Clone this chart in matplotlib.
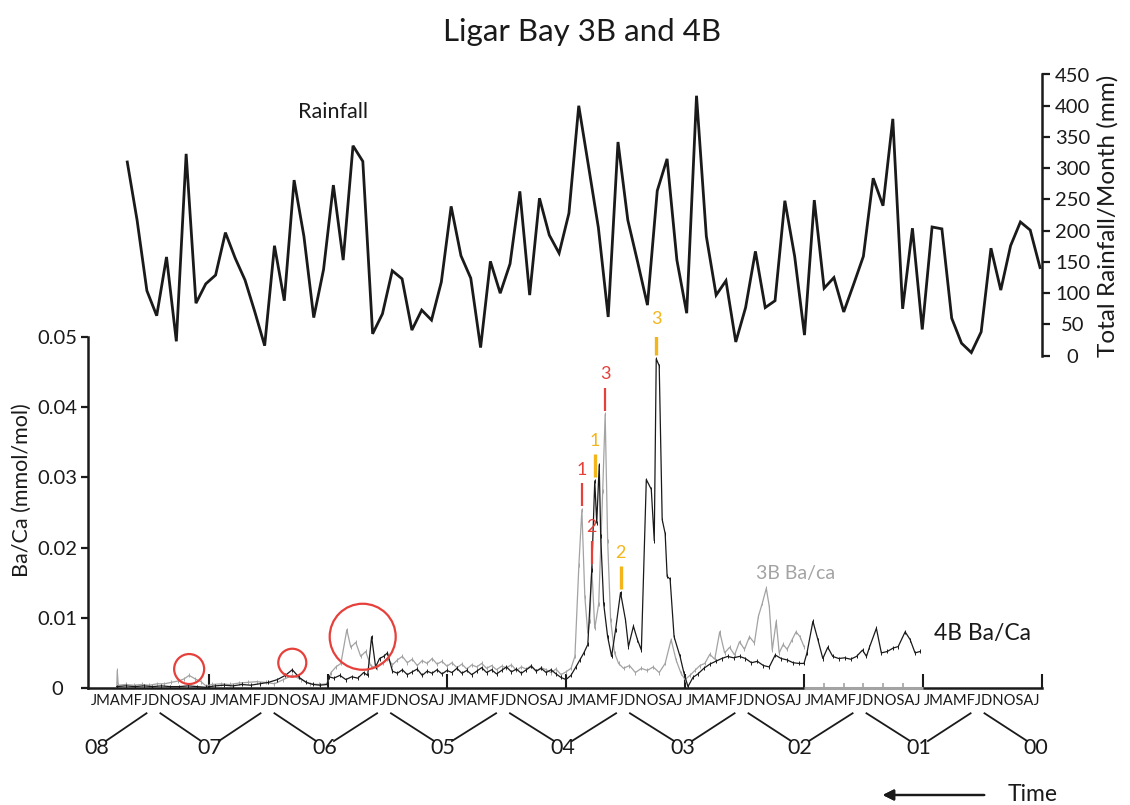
import matplotlib
matplotlib.use("Agg")
import matplotlib.pyplot as plt
from matplotlib.patches import Ellipse
from matplotlib import transforms

plt.rcParams['font.family'] = ['Lato', 'DejaVu Sans']

# ---------------- data ----------------
# monthly rainfall (mm), oldest month on the left
rain_mm = [310, 217, 104, 64, 158, 23, 323, 84, 115, 129, 197, 156, 121, 70, 16,
           176, 88, 281, 191, 61, 138, 273, 153, 336, 311, 35, 67, 136, 123, 41,
           73, 57, 118, 239, 160, 124, 13, 151, 100, 147, 263, 97, 252, 193, 164,
           228, 400, 303, 205, 62, 342, 217, 150, 81, 264, 315, 153, 68, 416, 191,
           97, 120, 22, 77, 167, 77, 88, 248, 159, 33, 249, 108, 125, 70, 114,
           159, 284, 240, 379, 75, 204, 42, 206, 203, 60, 20, 5, 38, 172, 105,
           176, 214, 201, 141]

# 3B Ba/Ca: position in months from the left edge of the time axis, value (mmol/mol)
months_3b = [2.7, 2.75, 2.85, 3.6, 4.4, 5.2, 6.0, 6.8, 7.5, 8.2, 8.9, 9.5, 10.0, 10.6,
             11.2, 11.7, 12.3, 13.2, 14.1, 15.0, 15.9, 16.8, 17.7, 18.6, 19.5, 20.4,
             21.3, 22.2, 23.1, 23.9, 24.3, 24.8, 25.3, 25.9, 26.3, 26.8, 27.3, 27.8,
             28.3, 28.9, 29.5, 30.0, 30.5, 31.0, 31.5, 32.0, 32.5, 33.0, 33.5, 34.0,
             34.5, 35.0, 35.5, 36.0, 36.5, 37.0, 37.5, 38.0, 38.5, 39.0, 39.5, 40.0,
             40.5, 41.0, 41.5, 42.0, 42.5, 43.0, 43.5, 44.0, 44.5, 45.0, 45.5, 46.0,
             46.5, 47.0, 47.5, 48.0, 48.5, 48.9, 49.3, 49.6, 49.9, 50.2, 50.4, 50.6,
             50.9, 51.3, 51.7, 51.95, 52.2, 52.5, 52.9, 53.3, 53.8, 54.4, 55.0, 55.6,
             56.2, 56.8, 57.4, 58.0, 58.6, 59.1, 59.6, 60.0, 60.5, 61.0, 61.5, 62.0,
             62.5, 63.0, 63.5, 64.0, 64.5, 65.0, 65.5, 66.0, 66.5, 67.0, 67.4, 67.8,
             68.2, 68.5, 68.8, 69.2, 69.5, 69.9, 70.3, 70.8, 71.2, 71.6, 72.0]
baca_3b = [0.0002, 0.0025, 0.0004, 0.0005, 0.0004, 0.0005, 0.0004, 0.0006, 0.0006, 0.0008,
           0.0010, 0.0013, 0.0018, 0.0013, 0.0009, 0.0003, 0.0005, 0.0006, 0.0005, 0.0007,
           0.0008, 0.0009, 0.0008, 0.0006, 0.0012, 0.0018, 0.0012, 0.0006, 0.0005, 0.0006,
           0.0022, 0.0030, 0.0035, 0.0083, 0.0058, 0.0065, 0.0045, 0.0052, 0.0032, 0.0028,
           0.0036, 0.0042, 0.0033, 0.0040, 0.0045, 0.0036, 0.0041, 0.0032, 0.0039, 0.0035,
           0.0042, 0.0034, 0.0038, 0.0031, 0.0036, 0.0029, 0.0034, 0.0027, 0.0033, 0.0030,
           0.0035, 0.0028, 0.0032, 0.0026, 0.0031, 0.0029, 0.0033, 0.0025, 0.0030, 0.0027,
           0.0032, 0.0024, 0.0029, 0.0026, 0.0022, 0.0027, 0.0019, 0.0023, 0.0028, 0.0045,
           0.0175, 0.0254, 0.0130, 0.0078, 0.0095, 0.0172, 0.0085, 0.0120, 0.0280, 0.0390,
           0.0210, 0.0097, 0.0050, 0.0035, 0.0028, 0.0032, 0.0022, 0.0028, 0.0025, 0.0030,
           0.0022, 0.0035, 0.0069, 0.0040, 0.0021, 0.0012, 0.0018, 0.0025, 0.0032, 0.0035,
           0.0048, 0.0041, 0.0080, 0.0050, 0.0058, 0.0047, 0.0066, 0.0055, 0.0073, 0.0064,
           0.0102, 0.0121, 0.0142, 0.0116, 0.0054, 0.0095, 0.0050, 0.0062, 0.0055, 0.0069,
           0.0080, 0.0073, 0.0059]

# 4B Ba/Ca
months_4b = [2.7, 3.6, 4.5, 5.4, 6.3, 7.2, 8.1, 9.0, 9.9, 10.8, 11.7, 12.6, 13.5, 14.4,
             15.3, 16.2, 17.1, 18.0, 18.9, 19.7, 20.4, 21.1, 21.8, 22.5, 23.2, 23.9,
             24.1, 24.6, 25.2, 25.8, 26.4, 27.0, 27.6, 28.0, 28.4, 28.8, 29.2, 29.6,
             30.0, 30.5, 31.0, 31.5, 32.0, 32.5, 33.0, 33.5, 34.0, 34.5, 35.0, 35.5,
             36.0, 36.5, 37.0, 37.5, 38.0, 38.5, 39.0, 39.5, 40.0, 40.5, 41.0, 41.5,
             42.0, 42.5, 43.0, 43.5, 44.0, 44.5, 45.0, 45.5, 46.0, 46.5, 47.0, 47.5,
             48.0, 48.5, 49.0, 49.4, 49.8, 50.2, 50.6, 50.9, 51.1, 51.35, 51.5, 51.8,
             52.2, 52.6, 53.0, 53.5, 54.0, 54.3, 54.8, 55.2, 55.6, 56.1, 56.6, 56.9,
             57.1, 57.4, 57.7, 58.0, 58.2, 58.5, 58.9, 59.5, 59.9, 60.3, 60.8, 61.3,
             61.9, 62.5, 63.1, 63.7, 64.3, 64.9, 65.5, 66.1, 66.7, 67.3, 67.9, 68.5,
             69.1, 69.7, 70.3, 70.9, 71.5, 72.0, 72.3, 72.9, 73.4, 73.9, 74.4, 74.9,
             75.5, 76.1, 76.7, 77.3, 77.9, 78.3, 78.6, 79.3, 79.8, 80.4, 81.0, 81.5,
             82.2, 82.7, 83.2, 83.7]
baca_4b = [0.0002, 0.0003, 0.0002, 0.0003, 0.0002, 0.0003, 0.0002, 0.0002, 0.0003, 0.0002,
           0.0001, 0.0003, 0.0004, 0.0003, 0.0005, 0.0004, 0.0006, 0.0008, 0.0012, 0.0018,
           0.0026, 0.0015, 0.0008, 0.0005, 0.0004, 0.0005, 0.0016, 0.0014, 0.0018, 0.0012,
           0.0016, 0.0014, 0.0022, 0.0018, 0.0073, 0.0030, 0.0042, 0.0045, 0.0050, 0.0024,
           0.0021, 0.0026, 0.0019, 0.0023, 0.0027, 0.0018, 0.0024, 0.0021, 0.0026, 0.0020,
           0.0025, 0.0022, 0.0028, 0.0021, 0.0025, 0.0019, 0.0024, 0.0029, 0.0022, 0.0026,
           0.0020, 0.0025, 0.0030, 0.0023, 0.0027, 0.0021, 0.0026, 0.0031, 0.0024, 0.0028,
           0.0022, 0.0026, 0.0020, 0.0015, 0.0012, 0.0018, 0.0030, 0.0040, 0.0050, 0.0062,
           0.0168, 0.0295, 0.0235, 0.0318, 0.0216, 0.0120, 0.0073, 0.0045, 0.0083, 0.0136,
           0.0097, 0.0059, 0.0088, 0.0069, 0.0054, 0.0297, 0.0283, 0.0210, 0.0469, 0.0459,
           0.0240, 0.0220, 0.0159, 0.0155, 0.0073, 0.0045, 0.0021, 0.0002, 0.0015, 0.0020,
           0.0028, 0.0034, 0.0038, 0.0042, 0.0045, 0.0043, 0.0045, 0.0042, 0.0036, 0.0038,
           0.0032, 0.0030, 0.0047, 0.0042, 0.0040, 0.0036, 0.0035, 0.0035, 0.0050, 0.0095,
           0.0069, 0.0042, 0.0058, 0.0045, 0.0042, 0.0043, 0.0041, 0.0045, 0.0054, 0.0045,
           0.0058, 0.0085, 0.0050, 0.0052, 0.0057, 0.0059, 0.0080, 0.0069, 0.0050, 0.0052]

month_letters = "JMAMFJDNOSAJ"
year_labels = ["08", "07", "06", "05", "04", "03", "02", "01", "00"]
# where each year label sits along the time axis (months)
year_pos = [0.7, 12.1, 23.7, 35.6, 47.7, 59.8, 71.6, 83.6, 95.4]

# highlighted samples (month, value, radius in px)
circles = [(10.0, 0.0027, 15), (20.4, 0.0036, 14), (27.5, 0.0073, 33)]
# numbered peaks: (label, month, value)
peaks_3b = [("1", 49.6, 0.0254), ("2", 50.6, 0.0172), ("3", 51.95, 0.0390)]
peaks_4b = [("1", 50.9, 0.0295), ("2", 53.5, 0.0136), ("3", 57.1, 0.0469)]

# ---------------- figure ----------------
W, H = 1130, 805
fig = plt.figure(figsize=(W / 100, H / 100), dpi=100)


def fx(px):
    return px / W


def fy(py):
    return 1 - py / H


RED = '#e5403a'
GOLD = '#f3b51a'
GREY = '#a3a3a3'
INK = '#1a1a1a'

ax = fig.add_axes([fx(88), fy(688), fx(1042) - fx(88), fy(337) - fy(688)])
axr = fig.add_axes([fx(88), fy(355.7), fx(1042) - fx(88), fy(74.5) - fy(355.7)])
for a in (ax, axr):
    a.patch.set_visible(False)

# ---- rainfall panel ----
axr.plot(range(len(rain_mm)), rain_mm, color=INK, lw=2.0, solid_joinstyle='miter')
axr.set_xlim(-4.0, 93.2)
axr.set_ylim(0, 450)
for s in ('left', 'top', 'bottom'):
    axr.spines[s].set_visible(False)
axr.spines['right'].set_linewidth(1.8)
axr.spines['right'].set_color(INK)
axr.yaxis.tick_right()
axr.set_yticks(range(0, 451, 50))
axr.tick_params(axis='y', direction='out', length=6, width=1.6, labelsize=14.5,
                pad=16, colors=INK)
for t in axr.get_yticklabels():
    t.set_ha('center')
axr.tick_params(axis='x', bottom=False, labelbottom=False)

# ---- Ba/Ca panel ----
ax.plot(months_3b, baca_3b, color=GREY, lw=0.9, marker='|', ms=3, mew=0.7, zorder=2)
ax.plot(months_4b, baca_4b, color=INK, lw=0.9, marker='|', ms=3, mew=0.7, zorder=3)
ax.set_xlim(-0.2, 96)
ax.set_ylim(0, 0.05)
for s in ('right', 'top'):
    ax.spines[s].set_visible(False)
for s in ('left', 'bottom'):
    ax.spines[s].set_linewidth(1.8)
    ax.spines[s].set_color(INK)
ax.set_yticks([0, 0.01, 0.02, 0.03, 0.04, 0.05])
ax.set_yticklabels(['0', '0.01', '0.02', '0.03', '0.04', '0.05'])
ax.tick_params(axis='y', direction='out', length=5, width=1.6, labelsize=14.5, pad=17,
               colors=INK)
for t in ax.get_yticklabels():
    t.set_ha('center')
ax.set_xticks(range(12, 97, 12))
ax.tick_params(axis='x', direction='in', length=10, width=1.5, labelbottom=False,
               colors=INK)

# grey stretch of the time axis with bi-monthly ticks
ax.plot([72, 84], [0, 0], color=GREY, lw=2.2, solid_capstyle='butt', zorder=4, clip_on=False)
ax.vlines(range(74, 84, 2), 0, 0.0007, color=GREY, lw=1.2, zorder=4)

# month letters, year labels and the connector lines between them
blend = transforms.blended_transform_factory(ax.transData, ax.transAxes)
for k in range(8):
    ax.annotate(month_letters, xy=(12 * k + 6, 0), xycoords=blend,
                xytext=(0, -9.5), textcoords='offset points', ha='center', va='center',
                fontsize=10.6, color=INK)
for k, (lab, p) in enumerate(zip(year_labels, year_pos)):
    ax.annotate(lab, xy=(p, 0), xycoords=blend, xytext=(0, -43.5),
                textcoords='offset points', ha='center', va='center', fontsize=15.5,
                color=INK)
    if k < len(year_pos) - 1:
        q = year_pos[k + 1]
        c = (p + q) / 2
        ax.plot([p + 0.9, c - 0.7], [-0.151, -0.072], transform=blend, color=INK,
                lw=1.3, clip_on=False)
        ax.plot([c + 0.7, q - 0.9], [-0.072, -0.151], transform=blend, color=INK,
                lw=1.3, clip_on=False)

# red circles (kept round in screen space)
fig.canvas.draw()
px_per_month = (ax.transData.transform((1, 0))[0] - ax.transData.transform((0, 0))[0])
px_per_unit = (ax.transData.transform((0, 0.01))[1] - ax.transData.transform((0, 0))[1]) / 0.01
for m, v, r in circles:
    ax.add_patch(Ellipse((m, v), 2 * r / px_per_month, 2 * r / px_per_unit,
                         fill=False, edgecolor=RED, lw=1.6, zorder=5))


# numbered peak markers
def mark(peaks, color, lw):
    for lab, m, v in peaks:
        ax.plot([m, m], [v + 0.0005, v + 0.0038], color=color, lw=lw, zorder=6,
                solid_capstyle='butt')
        ax.text(m, v + 0.0057, lab, color=color, ha='center', va='center', fontsize=13)


mark(peaks_3b, RED, 1.6)
mark(peaks_4b, GOLD, 2.4)

ax.text(71.1, 0.0163, '3B Ba/ca', color=GREY, ha='center', va='center', fontsize=14)
ax.text(90.0, 0.0078, '4B Ba/Ca', color=INK, ha='center', va='center', fontsize=16.5)

# ---- figure level text ----
fig.text(fx(582), fy(32), 'Ligar Bay 3B and 4B', ha='center', va='center', fontsize=22.5,
         color=INK)
fig.text(fx(333), fy(112), 'Rainfall', ha='center', va='center', fontsize=15.5, color=INK)
fig.text(fx(22), fy(490), 'Ba/Ca (mmol/mol)', rotation=90, ha='center', va='center',
         fontsize=15.5, color=INK)
fig.text(fx(1108), fy(216), 'Total Rainfall/Month (mm)', rotation=90, ha='center',
         va='center', fontsize=17.5, color=INK)
fig.text(fx(1033), fy(794), 'Time', ha='center', va='center', fontsize=16.5, color=INK)
fig.add_artist(plt.annotate('', xy=(fx(880), fy(795)), xycoords='figure fraction',
                            xytext=(fx(987), fy(795)), textcoords='figure fraction',
                            arrowprops=dict(arrowstyle='-|>', color=INK, lw=1.6,
                                            mutation_scale=16)))

fig.savefig('out.png', dpi=100)
